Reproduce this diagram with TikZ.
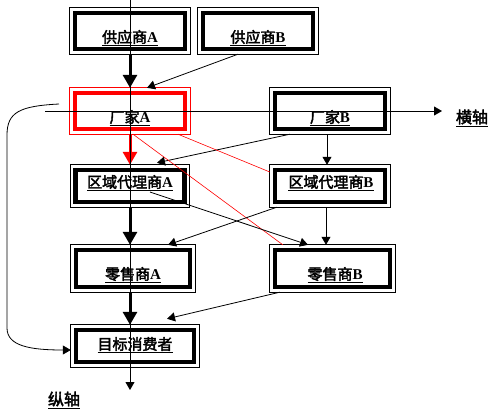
\documentclass[tikz,border=0pt]{standalone}
\usepackage{fontspec}
\setmainfont{Liberation Serif}
\newfontfamily\cjk[AutoFakeBold=2.5]{Noto Sans CJK SC}
\usetikzlibrary{arrows.meta}
\newcommand{\lbl}[2]{\underline{{\cjk\bfseries #1}\textbf{#2}}}
\newcommand{\frm}[2][black]{%
  \draw[#1, line width=0.8pt] (#2.north west) rectangle (#2.south east);
  \draw[#1, line width=4.5pt] ([xshift=5pt,yshift=-5pt]#2.north west) rectangle ([xshift=-5pt,yshift=5pt]#2.south east);}
\begin{document}
\begin{tikzpicture}[x=1pt,y=-1pt,
  box/.style={rectangle, inner sep=0pt, draw=none, fill=white},
  txt/.style={inner sep=0pt, font=\fontsize{15}{17}\selectfont},
  axtxt/.style={inner sep=0pt, font=\fontsize{16}{18}\selectfont},
  thickarr/.style={line width=3pt, -{Triangle[width=14pt,length=13pt]}},
  thinarr/.style={line width=0.8pt, -{Triangle[width=9pt,length=8pt]}},
  redline/.style={red, line width=0.6pt},
  axis/.style={line width=0.8pt, -{Triangle[width=9pt,length=8pt]}}]
\useasboundingbox (0,0) rectangle (493,413);
% boxes
\node[box, minimum width=120pt, minimum height=46pt] (sa) at (130,31) {};
\node[box, minimum width=120pt, minimum height=46pt] (sb) at (258,31) {};
\node[box, minimum width=120pt, minimum height=46pt] (fa) at (130,111) {};
\node[box, minimum width=120pt, minimum height=46pt] (fb) at (330,111) {};
\node[box, minimum width=119pt, minimum height=42pt] (ra) at (130,186) {};
\node[box, minimum width=120pt, minimum height=42pt] (rb) at (330,186) {};
\node[box, minimum width=124pt, minimum height=47pt] (la) at (133,268.5) {};
\node[box, minimum width=125pt, minimum height=47pt] (lb) at (332.5,268.5) {};
\node[box, minimum width=128pt, minimum height=42pt] (t) at (135,346) {};
\frm{sa}\frm{sb}\frm[red]{fa}\frm{fb}\frm{ra}\frm{rb}\frm{la}\frm{lb}\frm{t}
% texts
\node[txt] (sa-t) at (130,38) {\lbl{供应商}{A}};
\node[txt] (sb-t) at (258,38) {\lbl{供应商}{B}};
\node[txt] (fa-t) at (130,118) {\lbl{厂家}{A}};
\node[txt] (fb-t) at (330,118) {\lbl{厂家}{B}};
\node[txt] (ra-t) at (130,183) {\lbl{区域代理商}{A}};
\node[txt] (rb-t) at (331,183) {\lbl{区域代理商}{B}};
\node[txt] (la-t) at (133,275) {\lbl{零售商}{A}};
\node[txt] (lb-t) at (335,275) {\lbl{零售商}{B}};
\node[txt] (t-t) at (135,345) {\lbl{目标消费者}{}};
\node[axtxt] (hx) at (472,118) {\lbl{横轴}{}};
\node[axtxt] (vx) at (64,400) {\lbl{纵轴}{}};
% connectors
\draw[thickarr] (sa.south) -- (fa.north);
\draw[thinarr] ([xshift=-20pt]sb.south) -- ([xshift=17pt]fa.north);
\draw[thickarr, red] (fa.south) -- (ra.north);
\draw[thinarr] ([xshift=-40pt]fb.south) -- ([xshift=27pt,yshift=2pt]ra.north);
\draw[thinarr] ([xshift=-3pt]fb.south) -- ([xshift=-3pt]rb.north);
\draw[redline] ([xshift=48pt]fa.south) -- ([yshift=14pt]rb.west);
\draw[redline] ([xshift=3pt]fa.south) -- ([xshift=13pt]lb.north west);
\draw[thinarr] ([xshift=20pt,yshift=-6pt]ra.center) -- ([xshift=-24.5pt]lb.north);
\draw[thinarr] ([xshift=7pt]rb.south west) -- ([xshift=35pt]la.north);
\draw[thickarr] (ra.south) -- (ra.south |- la.north);
\draw[thinarr] ([xshift=-4pt]rb.south) -- ([xshift=-4pt]rb.south |- lb.north);
\draw[thickarr] (la.south -| ra.south) -- (ra.south |- t.north);
\draw[thinarr] ([xshift=10pt]lb.south west) -- ([xshift=32pt,yshift=6pt]t.north);
\coordinate (cs) at (59,104);
\draw[thinarr] (cs) .. controls (20,106) and (7,112) .. (7,135) -- (7,328) .. controls (7,346) and (30,350) .. ([yshift=-4pt]t.west);
% axes
\coordinate (vtop) at (130,0);
\coordinate (vbot) at (130,390);
\coordinate (hl) at (45,111);
\coordinate (hr) at (442,111);
\draw[axis] (vtop) -- (vbot);
\draw[axis] (hl) -- (hr);
\end{tikzpicture}
\end{document}
